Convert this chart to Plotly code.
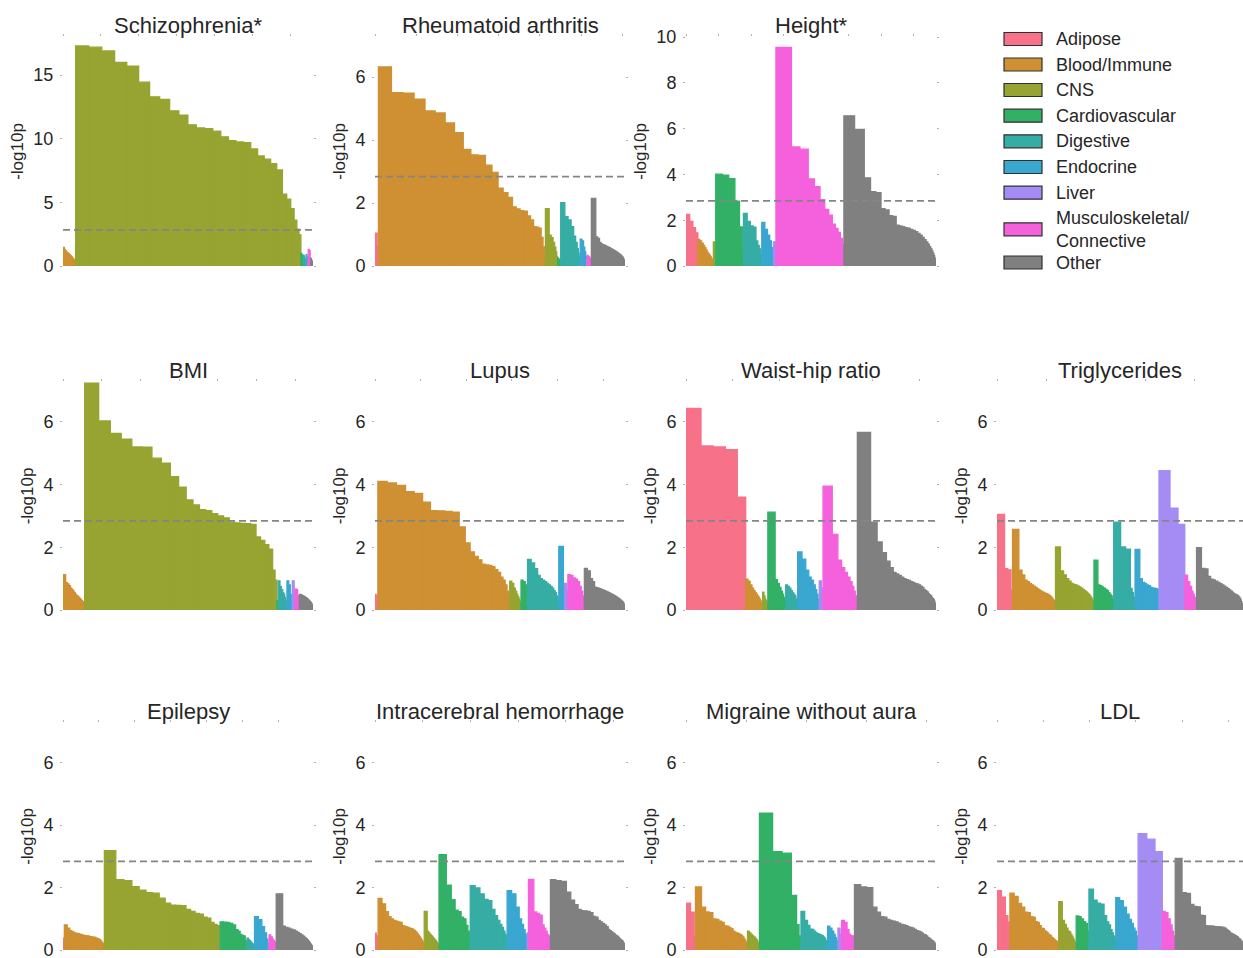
import plotly.graph_objects as go

CATEGORIES = ["Adipose", "Blood/Immune", "CNS", "Cardiovascular", "Digestive",
              "Endocrine", "Liver", "Musculoskeletal/<br>Connective", "Other"]
COLORS = ["#f77189", "#ce9032", "#97a431", "#32b166", "#36ada4",
          "#39a7d0", "#a48cf4", "#f561dd", "#808080"]

TRAITS = ["Schizophrenia*", "Rheumatoid arthritis", "Height*", "BMI", "Lupus",
          "Waist-hip ratio", "Triglycerides", "Epilepsy",
          "Intracerebral hemorrhage", "Migraine without aura", "LDL"]

# -log10p per tissue, grouped by category (same order as CATEGORIES)
SCZ = [
    [0.3],
    [1.47, 1.3, 1.2, 1.1, 1.05, 1.0, 0.95, 0.9, 0.85, 0.8, 0.75, 0.7, 0.65, 0.6, 0.55, 0.5, 0.45, 0.4, 0.35, 0.3, 0.25, 0.2],
    [17.3, 17.2, 16.9, 16.0, 15.7, 14.45, 13.3, 13.1, 12.2, 11.85, 11.1, 10.85, 10.8, 10.6, 10.15, 9.85, 9.75, 9.7, 9.2, 8.65, 8.4, 8.05, 7.55, 5.65, 5.25, 4.5, 3.6, 2.9, 2.45],
    [1.0, 0.9, 0.7, 0.5, 0.3],
    [0.85, 0.75, 0.6, 0.5, 0.4, 0.3, 0.2],
    [0.9, 0.7, 0.5, 0.3],
    [0.3],
    [1.3, 1.2, 0.6, 0.3],
    [0.6, 0.5, 0.4, 0.35, 0.3, 0.25, 0.2, 0.15, 0.1],
]
RA = [
    [1.04, 0.62],
    [6.32, 5.5, 5.49, 5.3, 4.92, 4.86, 4.54, 4.23, 3.7, 3.53, 3.51, 3.2, 2.97, 2.47, 2.33, 2.18, 1.88, 1.81, 1.76, 1.74, 1.59, 1.46, 1.25, 1.23, 1.2, 0.91, 0.61, 0.35, 0.2],
    [1.82, 0.98, 0.9, 0.75, 0.6, 0.45, 0.3, 0.15],
    [0.26, 0.24, 0.22, 0.2, 0.18, 0.15, 0.12, 0.1],
    [2.01, 1.57, 1.46, 1.25, 0.95, 0.75, 0.55, 0.4, 0.3, 0.2],
    [0.85, 0.8, 0.6, 0.45, 0.3, 0.2],
    [0.2],
    [0.34, 0.32, 0.3, 0.28, 0.25, 0.22, 0.18, 0.15],
    [2.15, 0.92, 0.88, 0.75, 0.7, 0.68, 0.66, 0.64, 0.62, 0.6, 0.58, 0.56, 0.54, 0.52, 0.5, 0.48, 0.46, 0.44, 0.42, 0.4, 0.38, 0.36, 0.34, 0.32, 0.3, 0.27, 0.24, 0.2, 0.16, 0.12, 0.08, 0.05],
]
HEIGHT = [
    [2.25, 1.95, 1.67, 1.45],
    [1.16, 1.1, 1.0, 0.9, 0.8, 0.7, 0.6, 0.55, 0.5, 0.45, 0.4, 0.35, 0.3, 0.25, 0.2, 0.15, 0.1],
    [1.05, 0.4],
    [4.01, 3.97, 3.81, 2.83, 1.71, 0.7],
    [2.3, 1.95, 1.75, 1.7, 1.1, 0.9, 0.75, 0.5, 0.33],
    [1.9, 1.6, 1.35, 1.1, 0.8, 0.5],
    [1.05, 0.4],
    [9.55, 5.2, 5.1, 3.8, 3.47, 2.9, 2.47, 2.22, 1.83, 1.64, 1.47, 1.2, 0.94],
    [6.56, 5.96, 3.85, 3.25, 3.2, 2.5, 2.45, 2.2, 2.17, 1.78, 1.75, 1.72, 1.68, 1.65, 1.6, 1.55, 1.5, 1.42, 1.35, 1.25, 1.15, 1.05, 0.95, 0.85, 0.75, 0.65, 0.55, 0.45, 0.35, 0.25, 0.15, 0.08],
]
BMI = [
    [0.25],
    [1.13, 0.87, 0.83, 0.78, 0.7, 0.65, 0.6, 0.55, 0.5, 0.47, 0.45, 0.42, 0.4, 0.37, 0.35, 0.32, 0.3, 0.28, 0.26, 0.25, 0.24, 0.22],
    [7.23, 6.03, 5.63, 5.45, 5.2, 5.19, 4.84, 4.68, 4.25, 3.92, 3.51, 3.35, 3.2, 3.17, 3.07, 3.0, 2.94, 2.8, 2.78, 2.76, 2.75, 2.73, 2.33, 2.22, 2.08, 1.94, 1.27, 0.95],
    [0.3, 0.2, 0.15],
    [0.93, 0.75, 0.65, 0.55, 0.5, 0.4, 0.3, 0.25, 0.2],
    [0.93, 0.8, 0.5, 0.35, 0.2],
    [0.93, 0.45],
    [0.67, 0.65, 0.45, 0.3, 0.15],
    [0.5, 0.49, 0.48, 0.46, 0.45, 0.43, 0.41, 0.4, 0.38, 0.36, 0.34, 0.32, 0.3, 0.28, 0.26, 0.24, 0.22, 0.2, 0.17, 0.14, 0.11, 0.08, 0.05],
]
LUPUS = [
    [0.5, 0.45, 0.3],
    [4.1, 4.05, 3.97, 3.77, 3.72, 3.44, 3.17, 3.16, 3.14, 3.12, 2.65, 2.14, 1.85, 1.71, 1.6, 1.46, 1.44, 1.42, 1.38, 1.29, 1.2, 1.05, 0.95, 0.8, 0.6, 0.4, 0.2],
    [0.92, 0.85, 0.7, 0.6, 0.5, 0.42, 0.35, 0.28, 0.2, 0.12],
    [0.95, 0.9, 0.8, 0.2],
    [1.61, 1.5, 1.32, 1.1, 1.0, 0.95, 0.9, 0.85, 0.8, 0.75, 0.7, 0.62, 0.55, 0.45, 0.35, 0.25],
    [2.03, 0.5],
    [0.85, 0.6],
    [1.13, 1.1, 1.02, 0.98, 0.9, 0.75, 0.6, 0.45, 0.3],
    [1.33, 1.25, 1.0, 0.9, 0.73, 0.71, 0.7, 0.68, 0.66, 0.64, 0.62, 0.6, 0.58, 0.56, 0.54, 0.52, 0.5, 0.48, 0.46, 0.44, 0.42, 0.4, 0.38, 0.36, 0.34, 0.32, 0.3, 0.28, 0.26, 0.24, 0.2, 0.16, 0.12, 0.08, 0.04],
]
WHR = [
    [6.43, 5.23, 5.2, 5.11, 3.6],
    [0.98, 0.92, 0.8, 0.7, 0.62, 0.55, 0.5, 0.45, 0.4, 0.35, 0.3, 0.25, 0.2, 0.15, 0.1],
    [0.57, 0.45, 0.35, 0.3, 0.25, 0.2, 0.1],
    [3.12, 0.97, 0.85, 0.72, 0.6, 0.5, 0.4, 0.3, 0.2],
    [0.8, 0.75, 0.7, 0.62, 0.55, 0.5, 0.45, 0.35, 0.25, 0.15],
    [1.85, 1.62, 1.27, 1.05, 0.95, 0.8, 0.65, 0.5, 0.35, 0.2],
    [0.93, 0.7],
    [3.95, 2.41, 1.59, 1.35, 1.2, 1.05, 0.9, 0.75, 0.6, 0.45, 0.3, 0.15],
    [5.66, 2.8, 2.17, 1.83, 1.56, 1.35, 1.2, 1.15, 1.1, 1.05, 1.0, 0.97, 0.94, 0.9, 0.88, 0.85, 0.83, 0.8, 0.76, 0.72, 0.65, 0.62, 0.58, 0.52, 0.48, 0.46, 0.4, 0.36, 0.34, 0.28, 0.22, 0.16, 0.1],
]
TG = [
    [3.05, 1.32, 1.28, 0.63],
    [2.57, 1.27, 1.12, 0.95, 0.9, 0.85, 0.8, 0.76, 0.72, 0.68, 0.64, 0.61, 0.58, 0.56, 0.54, 0.52, 0.5, 0.48, 0.45, 0.42, 0.38, 0.34, 0.3, 0.25, 0.2],
    [2.01, 1.25, 1.12, 1.0, 0.92, 0.85, 0.82, 0.8, 0.77, 0.74, 0.7, 0.66, 0.62, 0.58, 0.54, 0.5, 0.45, 0.4, 0.35, 0.28, 0.2],
    [1.59, 0.8, 0.78, 0.74, 0.7, 0.66, 0.62, 0.55, 0.5, 0.45, 0.35, 0.25],
    [2.8, 2.01, 1.94, 0.69, 0.55, 0.4, 0.25],
    [1.93, 1.0, 0.88, 0.85, 0.8, 0.78, 0.72, 0.7, 0.7, 0.68, 0.65],
    [4.44, 3.25, 2.73],
    [1.11, 0.9, 0.75, 0.6, 0.5, 0.4, 0.3, 0.2],
    [1.99, 1.33, 1.31, 1.07, 0.98, 0.96, 0.92, 0.88, 0.84, 0.8, 0.76, 0.72, 0.68, 0.64, 0.6, 0.56, 0.52, 0.5, 0.48, 0.46, 0.42, 0.38, 0.32, 0.26, 0.2, 0.14, 0.08],
]
EPILEPSY = [
    [0.38],
    [0.8, 0.7, 0.62, 0.58, 0.55, 0.53, 0.52, 0.5, 0.48, 0.47, 0.46, 0.45, 0.44, 0.43, 0.42, 0.41, 0.4, 0.38, 0.36, 0.35, 0.32, 0.28, 0.24, 0.2, 0.15, 0.1],
    [3.18, 2.25, 2.22, 2.03, 1.92, 1.84, 1.82, 1.66, 1.5, 1.44, 1.43, 1.42, 1.3, 1.24, 1.17, 1.15, 1.05, 1.02, 0.88, 0.82, 0.78, 0.1],
    [0.9, 0.89, 0.88, 0.85, 0.8, 0.65, 0.6, 0.5, 0.47, 0.45, 0.3, 0.2],
    [0.38, 0.33, 0.3, 0.26, 0.22, 0.2, 0.17, 0.13, 0.1],
    [1.07, 0.97, 0.75, 0.55, 0.35, 0.2],
    [0.15],
    [0.48, 0.42, 0.35, 0.3, 0.25, 0.2],
    [1.8, 0.76, 0.72, 0.7, 0.67, 0.64, 0.6, 0.56, 0.52, 0.48, 0.44, 0.4, 0.36, 0.32, 0.28, 0.24, 0.2, 0.17, 0.14, 0.11, 0.08, 0.05],
]
ICH = [
    [0.54, 0.45, 0.3],
    [1.65, 1.48, 1.23, 1.07, 1.0, 0.95, 0.92, 0.9, 0.88, 0.78, 0.76, 0.74, 0.72, 0.7, 0.68, 0.66, 0.62, 0.58, 0.52, 0.47, 0.42, 0.38, 0.33, 0.29, 0.25, 0.2, 0.15],
    [1.24, 0.6, 0.55, 0.5, 0.46, 0.42, 0.38, 0.35, 0.32, 0.29, 0.26, 0.23, 0.2, 0.17, 0.14, 0.1],
    [3.05, 2.08, 1.61, 1.28, 1.23, 1.05, 1.0, 0.79, 0.6, 0.4],
    [2.06, 1.99, 1.8, 1.62, 1.58, 1.3, 1.1, 0.95, 0.82, 0.72, 0.6, 0.5, 0.4],
    [1.9, 1.8, 1.37, 1.0, 0.82, 0.65, 0.5, 0.35],
    [0.55],
    [2.26, 1.22, 1.17, 1.12, 0.8, 0.7, 0.6, 0.5, 0.45, 0.4],
    [2.25, 2.22, 2.2, 1.85, 1.6, 1.45, 1.3, 1.26, 1.25, 1.24, 1.2, 1.08, 1.05, 0.95, 0.9, 0.85, 0.8, 0.75, 0.66, 0.62, 0.58, 0.55, 0.52, 0.48, 0.45, 0.44, 0.4, 0.36, 0.34, 0.32, 0.3, 0.28, 0.24, 0.2, 0.18, 0.12],
]
MIGRAINE = [
    [1.5, 1.21, 0.44],
    [2.02, 1.37, 1.22, 1.2, 1.0, 0.98, 0.92, 0.88, 0.77, 0.76, 0.72, 0.68, 0.6, 0.56, 0.55, 0.52, 0.5, 0.47, 0.42, 0.36, 0.3, 0.24, 0.18, 0.12],
    [0.6, 0.55, 0.5, 0.45, 0.42, 0.38, 0.33, 0.28, 0.22, 0.15, 0.1],
    [4.38, 3.15, 3.1, 1.75, 0.81, 0.45, 0.2],
    [1.24, 0.95, 0.79, 0.67, 0.66, 0.6, 0.55, 0.52, 0.5, 0.48, 0.46, 0.42, 0.38, 0.3, 0.22, 0.12],
    [0.76, 0.7, 0.6, 0.5, 0.4, 0.3, 0.2],
    [0.7, 0.5],
    [0.95, 0.88, 0.65, 0.5, 0.47, 0.45, 0.4],
    [2.09, 2.02, 2.0, 1.37, 1.21, 1.07, 1.05, 0.98, 0.95, 0.92, 0.9, 0.86, 0.82, 0.8, 0.78, 0.74, 0.72, 0.7, 0.66, 0.62, 0.6, 0.58, 0.54, 0.5, 0.48, 0.45, 0.4, 0.38, 0.35, 0.32, 0.3, 0.28, 0.25, 0.22, 0.16, 0.1],
]
LDL = [
    [1.9, 1.69, 1.1, 0.89],
    [1.82, 1.72, 1.49, 1.37, 1.21, 1.2, 1.07, 1.05, 0.91, 0.88, 0.78, 0.7, 0.68, 0.62, 0.58, 0.55, 0.5, 0.48, 0.45, 0.4, 0.38, 0.36, 0.33, 0.3, 0.3, 0.27, 0.24, 0.22, 0.2],
    [1.55, 0.95, 0.82, 0.7, 0.6, 0.58, 0.5, 0.44, 0.38, 0.32, 0.26, 0.2, 0.14, 0.1],
    [1.09, 1.07, 1.0, 0.91, 0.85, 0.6],
    [1.95, 1.6, 1.5, 1.47, 1.1, 0.9, 0.8, 0.65, 0.55, 0.45, 0.35, 0.25],
    [1.68, 1.58, 1.37, 1.15, 0.98, 0.85, 0.7, 0.6, 0.45, 0.3],
    [3.73, 3.55, 3.15],
    [1.24, 1.2, 1.0, 0.8, 0.6, 0.45, 0.3],
    [2.93, 1.84, 1.81, 1.46, 1.4, 1.38, 1.12, 1.1, 0.78, 0.77, 0.77, 0.76, 0.76, 0.75, 0.75, 0.74, 0.74, 0.73, 0.72, 0.7, 0.66, 0.62, 0.58, 0.54, 0.52, 0.5, 0.48, 0.46, 0.44, 0.42, 0.38, 0.36, 0.34, 0.3, 0.28, 0.22, 0.15],
]

PANEL_DATA = [SCZ, RA, HEIGHT, BMI, LUPUS, WHR, TG, EPILEPSY, ICH, MIGRAINE, LDL]
Y_MAX = [18.0, 7.27, 10.0, 7.27, 7.27, 7.27, 7.27, 7.27, 7.27, 7.27, 7.27]
Y_TICKS = [[0, 5, 10, 15], [0, 2, 4, 6], [0, 2, 4, 6, 8, 10]] + [[0, 2, 4, 6]] * 8
X_DTICK = [50, 20, 20, 20, 20, 20, 20, 10, 20, 20, 20]
THRESHOLD = 2.84

# ---------------- layout geometry (pixels) ----------------
W, H = 1243, 958
COL_X = [(63, 313), (375, 625), (686, 936), (997, 1243)]
ROW_Y = [(37, 266), (382, 610), (723, 950)]
GRID = [(0, 0), (0, 1), (0, 2), (1, 0), (1, 1), (1, 2), (1, 3),
        (2, 0), (2, 1), (2, 2), (2, 3)]
FONT = "Arial, Liberation Sans, sans-serif"
TXT = "#262626"


def px_x(p):
    return p / W


def px_y(p):
    return 1 - p / H


fig = go.Figure()
shapes = []
annotations = []
layout_axes = {}

for i, (title, data) in enumerate(zip(TRAITS, PANEL_DATA)):
    r, c = GRID[i]
    n = "" if i == 0 else str(i + 1)
    xa, ya = "x" + n, "y" + n
    left = 0.0
    for cat_vals, color in zip(data, COLORS):
        xs, ws = [], []
        for v in cat_vals:
            xs.append(left + v / 2)
            ws.append(v)
            left += v
        fig.add_trace(go.Bar(
            x=xs, y=cat_vals, width=ws, xaxis=xa, yaxis=ya,
            marker=dict(color=color, line=dict(width=1.3, color=color)),
            showlegend=False, hoverinfo="skip"))
    x0, x1 = COL_X[c]
    yt, yb = ROW_Y[r]
    layout_axes["xaxis" + n] = dict(
        domain=[px_x(x0), px_x(x1)], range=[0, left], anchor=ya,
        automargin=False,
        showticklabels=False, showgrid=False, zeroline=False, showline=False,
        ticks="outside", ticklen=2, tickwidth=1, tickcolor="#b0b0b0",
        side="top", dtick=X_DTICK[i], tick0=0)
    layout_axes["yaxis" + n] = dict(
        domain=[px_y(yb), px_y(yt)], range=[0, Y_MAX[i]], anchor=xa,
        automargin=False, ticklabeloverflow="allow",
        tickvals=Y_TICKS[i], showgrid=False, zeroline=False, showline=False,
        ticks="outside", ticklen=2, tickwidth=1, tickcolor="#b0b0b0",
        mirror="ticks", ticklabelstandoff=3,
        tickfont=dict(size=18, color=TXT, family=FONT),
        title=dict(text="-log10p", standoff=5,
                   font=dict(size=17, color=TXT, family=FONT)))
    shapes.append(dict(type="line", xref=xa, yref=ya, x0=0, x1=left,
                       y0=THRESHOLD, y1=THRESHOLD,
                       line=dict(color="#858585", width=1.7, dash="7px,4px")))
    annotations.append(dict(
        text=title, xref="paper", yref="paper",
        x=px_x((x0 + x1) / 2), y=px_y(yt - 12), xanchor="center", yanchor="middle",
        showarrow=False, font=dict(size=22, color=TXT, family=FONT)))

# ---------------- legend (drawn manually) ----------------
LEG_Y = [39, 64.5, 90, 115.7, 141.3, 167, 192.7, 229.3, 262.5]
for name, color, cy in zip(CATEGORIES, COLORS, LEG_Y):
    shapes.append(dict(type="rect", xref="paper", yref="paper",
                       x0=px_x(1004), x1=px_x(1042),
                       y0=px_y(cy + 6.5), y1=px_y(cy - 6.5),
                       fillcolor=color, line=dict(color="#303030", width=1.2)))
    annotations.append(dict(
        text=name, xref="paper", yref="paper", x=px_x(1054), y=px_y(cy),
        xanchor="left", yanchor="middle", align="left", showarrow=False,
        font=dict(size=18, color=TXT, family=FONT)))

fig.update_layout(
    width=W, height=H, margin=dict(l=0, r=0, t=0, b=0, autoexpand=False),
    paper_bgcolor="white", plot_bgcolor="white",
    barmode="overlay", showlegend=False,
    shapes=shapes, annotations=annotations, **layout_axes)

fig.write_html("out.html")
